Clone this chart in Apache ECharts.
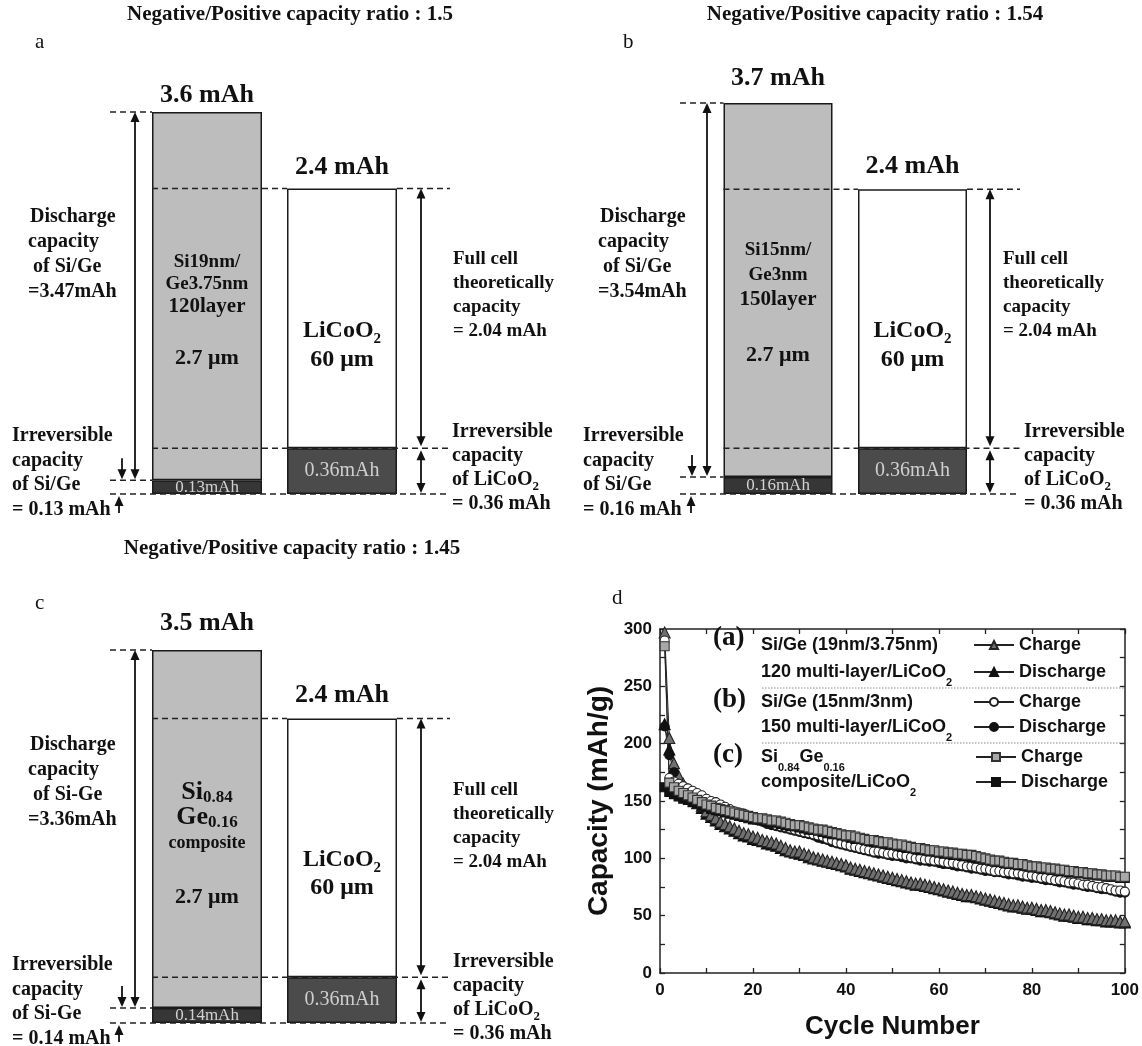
<!DOCTYPE html>
<html><head><meta charset="utf-8">
<script src="https://cdn.jsdelivr.net/npm/echarts@6/dist/echarts.min.js"></script>
<style>html,body{margin:0;padding:0;background:#fff}#c{width:1142px;height:1046px}</style>
</head><body><div id="c"></div>
<script>
// ================= DATA =================
// Panels a, b, c : capacity balance diagrams (mAh)
const ratioLabels = ['1.5', '1.54', '1.45'];
const anodeTotal = [3.6, 3.7, 3.5];
const anodeDischarge = [3.47, 3.54, 3.36];
const anodeIrreversible = [0.13, 0.16, 0.14];
const cathodeTotal = [2.4, 2.4, 2.4];
const cathodeFullCell = [2.04, 2.04, 2.04];
const cathodeIrreversible = [0.36, 0.36, 0.36];
const anodeMaterial = ['Si/Ge', 'Si/Ge', 'Si-Ge'];
const anodeNameLines = [['Si19nm/', 'Ge3.75nm', '120layer'], ['Si15nm/', 'Ge3nm', '150layer'], ['Si|0.84', 'Ge|0.16', 'composite']];
const anodeThickness = ['2.7 μm', '2.7 μm', '2.7 μm'];
const cathodeThickness = ['60 μm', '60 μm', '60 μm'];

// Panel d : cycling capacity (mAh/g)
const cycles = [1,2,3,4,5,6,7,8,9,10,11,12,13,14,15,16,17,18,19,20,21,22,23,24,25,26,27,28,29,30,31,32,33,34,35,36,37,38,39,40,41,42,43,44,45,46,47,48,49,50,51,52,53,54,55,56,57,58,59,60,61,62,63,64,65,66,67,68,69,70,71,72,73,74,75,76,77,78,79,80,81,82,83,84,85,86,87,88,89,90,91,92,93,94,95,96,97,98,99,100];
const aCharge = [297,205,183,172,165,160,155,150,146,141, 138,135,132,130,128,126,124,122,121,119, 118,116,115,114,113,111,109,107,106,106, 104,103,101,100,99,98,97,96,95,94, 92,91,90,89,88,87,86,85,84,83, 82,81,80,79,78,78,77,76,75,74, 73,72,71,70,69,68,68,67,66,65, 64,63,62,61,60,59,59,58,57,57, 56,55,55,54,53,52,51,51,50,49, 49,48,48,47,47,46,46,46,45,45];
const aDischarge = [217,195,178,169,162,157,152,148,144,139, 136,133,130,128,126,124,122,120,119,117, 116,115,113,112,111,109,107,106,105,104, 103,101,100,99,98,97,96,95,94,93, 91,90,89,88,87,86,85,84,83,82, 81,80,79,78,77,77,76,75,74,73, 72,71,70,69,68,67,67,66,65,64, 63,62,61,60,59,58,58,57,56,56, 55,54,54,53,52,51,50,50,49,48, 48,47,47,46,46,45,45,45,44,44];
const bCharge = [290,170,167,165,163,161,159,157,155,152, 150,149,147,145,143,141,140,139,137,136, 135,133,132,131,129,128,127,126,125,124, 123,122,121,120,119,117,116,114,113,112, 111,110,109,108,107,106,106,105,104,104, 103,103,102,101,100,100,99,99,98,98, 97,96,96,95,94,93,93,92,91,91, 90,89,89,88,88,87,87,86,85,85, 84,83,83,82,81,81,80,79,79,78, 77,77,76,75,75,74,73,72,72,71];
const bDischarge = [215,190,175,165,161,159,157,155,153,150, 148,147,145,143,141,140,138,137,136,134, 133,132,130,129,128,127,126,125,124,123, 122,121,120,118,117,116,114,113,112,111, 110,109,108,107,106,105,104,104,103,102, 102,101,100,100,99,98,98,97,97,96, 95,95,94,93,93,92,91,91,90,89, 89,88,88,87,86,86,85,84,84,83, 83,82,81,81,80,79,79,78,77,77, 76,75,75,74,73,73,72,71,70,70];
const cCharge = [285,166,162,159,157,155,153,151,149,147, 146,144,143,142,141,140,139,138,137,136, 135,135,134,133,133,132,131,130,129,129, 128,127,126,125,125,124,123,122,121,120, 120,119,118,117,116,116,115,114,114,113, 112,112,111,110,109,109,108,107,107,106, 106,105,105,104,104,103,103,102,101,100, 99,98,98,97,96,96,95,95,94,93, 93,92,92,91,91,90,90,89,89,88, 88,87,87,86,86,85,85,85,84,84];
const cDischarge = [162,158,156,154,152,151,149,148,146,145, 143,142,141,140,139,138,137,136,135,134, 134,133,132,132,131,130,129,128,128,127, 126,125,125,124,123,122,121,121,120,119, 118,117,117,116,115,114,114,113,112,112, 111,110,109,109,108,107,107,106,106,105, 104,104,103,103,102,102,101,100,100,99, 98,97,97,96,95,95,94,94,93,92, 92,91,91,90,90,89,89,88,88,87, 87,86,86,85,85,84,84,84,83,83];
const xTickLabels = [0, 20, 40, 60, 80, 100];
const yTickLabels = [0, 50, 100, 150, 200, 250, 300];
const legendGroups = ['(a)', '(b)', '(c)'];
const legendLine1 = ['Si/Ge (19nm/3.75nm)', 'Si/Ge (15nm/3nm)', 'Si|0.84|Ge|0.16'];
const legendLine2 = ['120 multi-layer/LiCoO|2', '150 multi-layer/LiCoO|2', 'composite/LiCoO|2'];

// ================= CHART =================
const SERIF = '"Liberation Serif", "Times New Roman", serif';
const SANS = '"Liberation Sans", Arial, sans-serif';
const chart = echarts.init(document.getElementById('c'), null, {renderer: 'canvas'});

const diag = [
  {grid: {left: 139.5, top: 112, width: 270, height: 382}, barW: 110, cathMax: 3.0, anDist: 4, caDist: 8},
  {grid: {left: 710.75, top: 103, width: 269, height: 391}, barW: 109, cathMax: 3.08, anDist: 12, caDist: 10},
  {grid: {left: 139.5, top: 650, width: 270, height: 373}, barW: 110, cathMax: 2.94, anDist: 14, caDist: 10}
];
const grids = [], xAxes = [], yAxes = [], series = [];
diag.forEach((d, i) => {
  grids.push(d.grid);
  xAxes.push({type: 'category', gridIndex: i, data: ['anode', 'cathode'], show: false});
  yAxes.push({type: 'value', gridIndex: i, min: 0, max: anodeTotal[i], show: false});
  yAxes.push({type: 'value', gridIndex: i, min: 0, max: d.cathMax, show: false, position: 'right'});
  const common = {type: 'bar', xAxisIndex: i, barWidth: d.barW, barGap: '-100%', silent: true, animation: false};
  const border = {borderColor: '#1a1a1a', borderWidth: 1.5};
  series.push(Object.assign({}, common, {yAxisIndex: 2 * i, stack: 'an' + i, data: [anodeIrreversible[i], '-'],
    itemStyle: Object.assign({color: '#363636'}, border),
    label: {show: true, position: 'inside', formatter: p => p.value + 'mAh', color: '#d2d2d2', fontFamily: SERIF, fontSize: 17}}));
  series.push(Object.assign({}, common, {yAxisIndex: 2 * i, stack: 'an' + i, data: [anodeDischarge[i], '-'],
    itemStyle: Object.assign({color: '#bdbdbd'}, border),
    label: {show: true, position: 'top', distance: d.anDist, formatter: () => anodeTotal[i] + ' mAh', color: '#111', fontFamily: SERIF, fontWeight: 'bold', fontSize: 26}}));
  series.push(Object.assign({}, common, {yAxisIndex: 2 * i + 1, stack: 'ca' + i, data: ['-', cathodeIrreversible[i]],
    itemStyle: Object.assign({color: '#4b4b4b'}, border),
    label: {show: true, position: 'inside', formatter: p => p.value + 'mAh', color: '#cfcfcf', fontFamily: SERIF, fontSize: 20}}));
  series.push(Object.assign({}, common, {yAxisIndex: 2 * i + 1, stack: 'ca' + i, data: ['-', cathodeFullCell[i]],
    itemStyle: Object.assign({color: '#ffffff'}, border),
    label: {show: true, position: 'top', distance: d.caDist, formatter: () => cathodeTotal[i] + ' mAh', color: '#111', fontFamily: SERIF, fontWeight: 'bold', fontSize: 26}}));
});

// panel d
grids.push({left: 660, top: 629, width: 465, height: 344});
function axLine() { return {show: true, onZero: false, lineStyle: {color: '#222', width: 1.5}}; }
function tickSt() { return {show: true, inside: true, length: 5, lineStyle: {color: '#222', width: 1.3}}; }
const lblSt = {fontFamily: SANS, fontWeight: 'bold', fontSize: 17, color: '#111'};
const xFmt = v => (xTickLabels.indexOf(v) >= 0 ? String(v) : '');
const yFmt = v => (yTickLabels.indexOf(v) >= 0 ? String(v) : '');
const xMin = xTickLabels[0], xMax = xTickLabels[xTickLabels.length - 1];
const yMin = yTickLabels[0], yMax = yTickLabels[yTickLabels.length - 1];
xAxes.push({type: 'value', gridIndex: 3, min: xMin, max: xMax, interval: 10,
  axisLine: axLine(), axisTick: tickSt(), splitLine: {show: false},
  axisLabel: Object.assign({margin: 9, formatter: xFmt}, lblSt),
  name: 'Cycle Number', nameLocation: 'middle', nameGap: 41,
  nameTextStyle: {fontFamily: SANS, fontWeight: 'bold', fontSize: 26, color: '#111'}});
xAxes.push({type: 'value', gridIndex: 3, position: 'top', min: xMin, max: xMax, interval: 10,
  axisLine: axLine(), axisTick: tickSt(), splitLine: {show: false}, axisLabel: {show: false}});
yAxes.push({type: 'value', gridIndex: 3, min: yMin, max: yMax, interval: 25,
  axisLine: axLine(), axisTick: tickSt(), splitLine: {show: false},
  axisLabel: Object.assign({margin: 8, formatter: yFmt}, lblSt),
  name: 'Capacity (mAh/g)', nameLocation: 'middle', nameGap: 47,
  nameTextStyle: {fontFamily: SANS, fontWeight: 'bold', fontSize: 28, color: '#111'}});
yAxes.push({type: 'value', gridIndex: 3, position: 'right', min: yMin, max: yMax, interval: 25,
  axisLine: axLine(), axisTick: tickSt(), splitLine: {show: false}, axisLabel: {show: false}});

const dDefs = [
  {name: 'a|Discharge', vals: aDischarge, symbol: 'triangle', size: 11, fill: '#111', stroke: '#111'},
  {name: 'a|Charge', vals: aCharge, symbol: 'triangle', size: 11, fill: '#707070', stroke: '#222'},
  {name: 'b|Discharge', vals: bDischarge, symbol: 'circle', size: 9, fill: '#111', stroke: '#111'},
  {name: 'b|Charge', vals: bCharge, symbol: 'circle', size: 9, fill: '#ffffff', stroke: '#222'},
  {name: 'c|Discharge', vals: cDischarge, symbol: 'rect', size: 9, fill: '#111', stroke: '#111'},
  {name: 'c|Charge', vals: cCharge, symbol: 'rect', size: 9, fill: '#a8a8a8', stroke: '#333'}
];
dDefs.forEach(s => {
  series.push({type: 'line', name: s.name, xAxisIndex: 3, yAxisIndex: 6, animation: false, silent: true,
    data: cycles.map((c, k) => [c, s.vals[k]]),
    symbol: s.symbol, symbolSize: s.size, showAllSymbol: true,
    lineStyle: {color: '#222', width: 1},
    itemStyle: {color: s.fill, borderColor: s.stroke, borderWidth: 1.1}});
});

const legendNames = ['a|Charge', 'a|Discharge', 'b|Charge', 'b|Discharge', 'c|Charge', 'c|Discharge'];
const legendCY = [645, 672, 702, 727, 757, 782];
const legendLeft = [973, 973, 973, 973, 975, 975];
const legends = legendNames.map((n, k) => ({
  data: [n], left: legendLeft[k], top: legendCY[k] - 10, padding: 0, itemWidth: 40, itemHeight: 10,
  selectedMode: false, formatter: nm => nm.split('|')[1],
  textStyle: {fontFamily: SANS, fontWeight: 'bold', fontSize: 18, color: '#111', lineHeight: 20}
}));

chart.setOption({
  backgroundColor: '#ffffff', animation: false,
  grid: grids, xAxis: xAxes, yAxis: yAxes, series: series, legend: legends
});

// ================= ANNOTATIONS (positions via library scales) =================
const gfx = [];
function T(x, y, text, o) {
  o = o || {};
  const st = {text: text, fontFamily: o.family || SERIF, fontWeight: o.weight || 'bold', fontSize: o.size || 20,
    fill: o.color || '#111', align: o.align || 'left', textAlign: o.align || 'left',
    verticalAlign: 'middle', textVerticalAlign: 'middle'};
  if (o.rich) st.rich = o.rich;
  gfx.push({type: 'text', x: x, y: y, z: 100, silent: true, style: st});
}
function subRich(main, sub, family, L, color) {
  return {
    m: {fontFamily: family, fontWeight: 'bold', fontSize: main, lineHeight: L, fill: color || '#111'},
    s: {fontFamily: family, fontWeight: 'bold', fontSize: sub, lineHeight: sub, verticalAlign: 'bottom', fill: color || '#111'}
  };
}
function subText(str) { // 'A|sub|B|sub' -> rich
  return str.split('|').map((p, k) => (k % 2 ? '{s|' + p + '}' : (p ? '{m|' + p + '}' : ''))).join('');
}
function dash(x1, x2, y) {
  gfx.push({type: 'line', z: 90, silent: true, shape: {x1: x1, y1: y, x2: x2, y2: y},
    style: {stroke: '#222', lineWidth: 1.5, lineDash: [6, 4]}});
}
function vArrow(x, y1, y2, headTop, headBottom) {
  const h = 10, w = 4.5;
  gfx.push({type: 'line', z: 95, silent: true,
    shape: {x1: x, y1: y1 + (headTop ? h - 2 : 0), x2: x, y2: y2 - (headBottom ? h - 2 : 0)},
    style: {stroke: '#111', lineWidth: 1.8}});
  if (headTop) gfx.push({type: 'polygon', z: 95, silent: true, shape: {points: [[x, y1], [x - w, y1 + h], [x + w, y1 + h]]}, style: {fill: '#111'}});
  if (headBottom) gfx.push({type: 'polygon', z: 95, silent: true, shape: {points: [[x, y2], [x - w, y2 - h], [x + w, y2 - h]]}, style: {fill: '#111'}});
}

const lay = [
  {title: [290, 15], letter: [35, 42, 'a'], dashL: 110, dashR: 450, arrA: 135, arrS: 122, arrU: 119, arrC: 421,
   leftX: [30, 28, 33, 28], leftY: 217, irrX: 12, irrY: 436, fullX: 453, fullY: 259, irrRX: 452, irrRY: 432,
   anY: [262, 284, 307], anSz: [19, 19, 21], thickY: 358, caY: [331, 360]},
  {title: [875, 15], letter: [623, 42, 'b'], dashL: 680, dashR: 1020, arrA: 707, arrS: 692, arrU: 691, arrC: 990,
   leftX: [600, 598, 603, 598], leftY: 217, irrX: 583, irrY: 436, fullX: 1003, fullY: 259, irrRX: 1024, irrRY: 432,
   anY: [250, 275, 300], anSz: [19, 19, 21], thickY: 355, caY: [331, 360]},
  {title: [292, 549], letter: [35, 603, 'c'], dashL: 110, dashR: 450, arrA: 135, arrS: 122, arrU: 119, arrC: 421,
   leftX: [30, 28, 33, 28], leftY: 745, irrX: 12, irrY: 965, fullX: 453, fullY: 790, irrRX: 453, irrRY: 962,
   anY: [792, 817, 843], anSz: [26, 26, 18], thickY: 897, caY: [860, 888]}
];

lay.forEach((L, i) => {
  const yA = v => chart.convertToPixel({yAxisIndex: 2 * i}, v);
  const yC = v => chart.convertToPixel({yAxisIndex: 2 * i + 1}, v);
  const xA = chart.convertToPixel({xAxisIndex: i}, 'anode');
  const xC = chart.convertToPixel({xAxisIndex: i}, 'cathode');
  const hw = diag[i].barW / 2;
  const aL = xA - hw, cL = xC - hw, cR = xC + hw;
  const yTopA = yA(anodeTotal[i]), yIrrA = yA(anodeIrreversible[i]), y0 = yA(0);
  const yTopC = yC(cathodeTotal[i]), yIrrC = yC(cathodeIrreversible[i]);

  dash(L.dashL, aL, yTopA);
  dash(L.dashL, aL, yIrrA);
  dash(L.dashL, L.dashR, y0);
  dash(aL, cL, yTopC); dash(cR, L.dashR, yTopC);
  dash(aL, L.dashR, yIrrC);

  vArrow(L.arrA, yTopA, yIrrA - 1, true, true);
  vArrow(L.arrS, yIrrA - 22, yIrrA - 1, false, true);
  vArrow(L.arrU, y0 + 2, y0 + 19, true, false);
  vArrow(L.arrC, yTopC, yIrrC - 2, true, true);
  vArrow(L.arrC, yIrrC + 2, y0 - 1, true, true);

  T(L.title[0], L.title[1], 'Negative/Positive capacity ratio : ' + ratioLabels[i], {size: 21, align: 'center'});
  T(L.letter[0], L.letter[1], L.letter[2], {weight: 'normal', size: 21});

  const leftLines = ['Discharge', 'capacity', 'of ' + anodeMaterial[i], '=' + anodeDischarge[i] + 'mAh'];
  leftLines.forEach((t, k) => T(L.leftX[k], L.leftY + 25 * k, t, {size: 20}));
  const irrLines = ['Irreversible', 'capacity', 'of ' + anodeMaterial[i], '= ' + anodeIrreversible[i] + ' mAh'];
  irrLines.forEach((t, k) => T(L.irrX, L.irrY + 24.5 * k, t, {size: 20}));

  anodeNameLines[i].forEach((t, k) => {
    if (t.indexOf('|') >= 0) {
      T(xA, L.anY[k], subText(t), {align: 'center', rich: subRich(L.anSz[k], 17, SERIF, 28)});
    } else {
      T(xA, L.anY[k], t, {align: 'center', size: L.anSz[k]});
    }
  });
  T(xA, L.thickY, anodeThickness[i], {align: 'center', size: 22});

  T(xC, L.caY[0], subText('LiCoO|2'), {align: 'center', rich: subRich(24, 15, SERIF, 31)});
  T(xC, L.caY[1], cathodeThickness[i], {align: 'center', size: 24});

  const fullLines = ['Full cell', 'theoretically', 'capacity', '= ' + cathodeFullCell[i].toFixed(2) + ' mAh'];
  fullLines.forEach((t, k) => T(L.fullX, L.fullY + 24 * k, t, {size: 19}));
  const irrR = ['Irreversible', 'capacity', 'of LiCoO|2', '= ' + cathodeIrreversible[i] + ' mAh'];
  irrR.forEach((t, k) => {
    if (t.indexOf('|') >= 0) T(L.irrRX, L.irrRY + 24 * k, subText(t), {rich: subRich(20, 13, SERIF, 27)});
    else T(L.irrRX, L.irrRY + 24 * k, t, {size: 20});
  });
});

T(612, 598, 'd', {weight: 'normal', size: 21});
const grpY = [[638, 645, 672], [700, 702, 727], [755, 757, 782]];
legendGroups.forEach((g, k) => {
  T(713, grpY[k][0], g, {size: 27});
  const l1 = legendLine1[k], l2 = legendLine2[k];
  if (l1.indexOf('|') >= 0) T(761, grpY[k][1], subText(l1), {rich: subRich(18, 11, SANS, 32)});
  else T(761, grpY[k][1], l1, {family: SANS, size: 18});
  T(761, grpY[k][2], subText(l2), {rich: subRich(18, 11, SANS, 32)});
});
[688, 743].forEach(y => gfx.push({type: 'line', z: 90, silent: true, shape: {x1: 762, y1: y, x2: 1124, y2: y},
  style: {stroke: '#8a8a8a', lineWidth: 1, lineDash: [1.5, 1.5]}}));

chart.setOption({graphic: {elements: gfx}});
</script>
</body></html>
